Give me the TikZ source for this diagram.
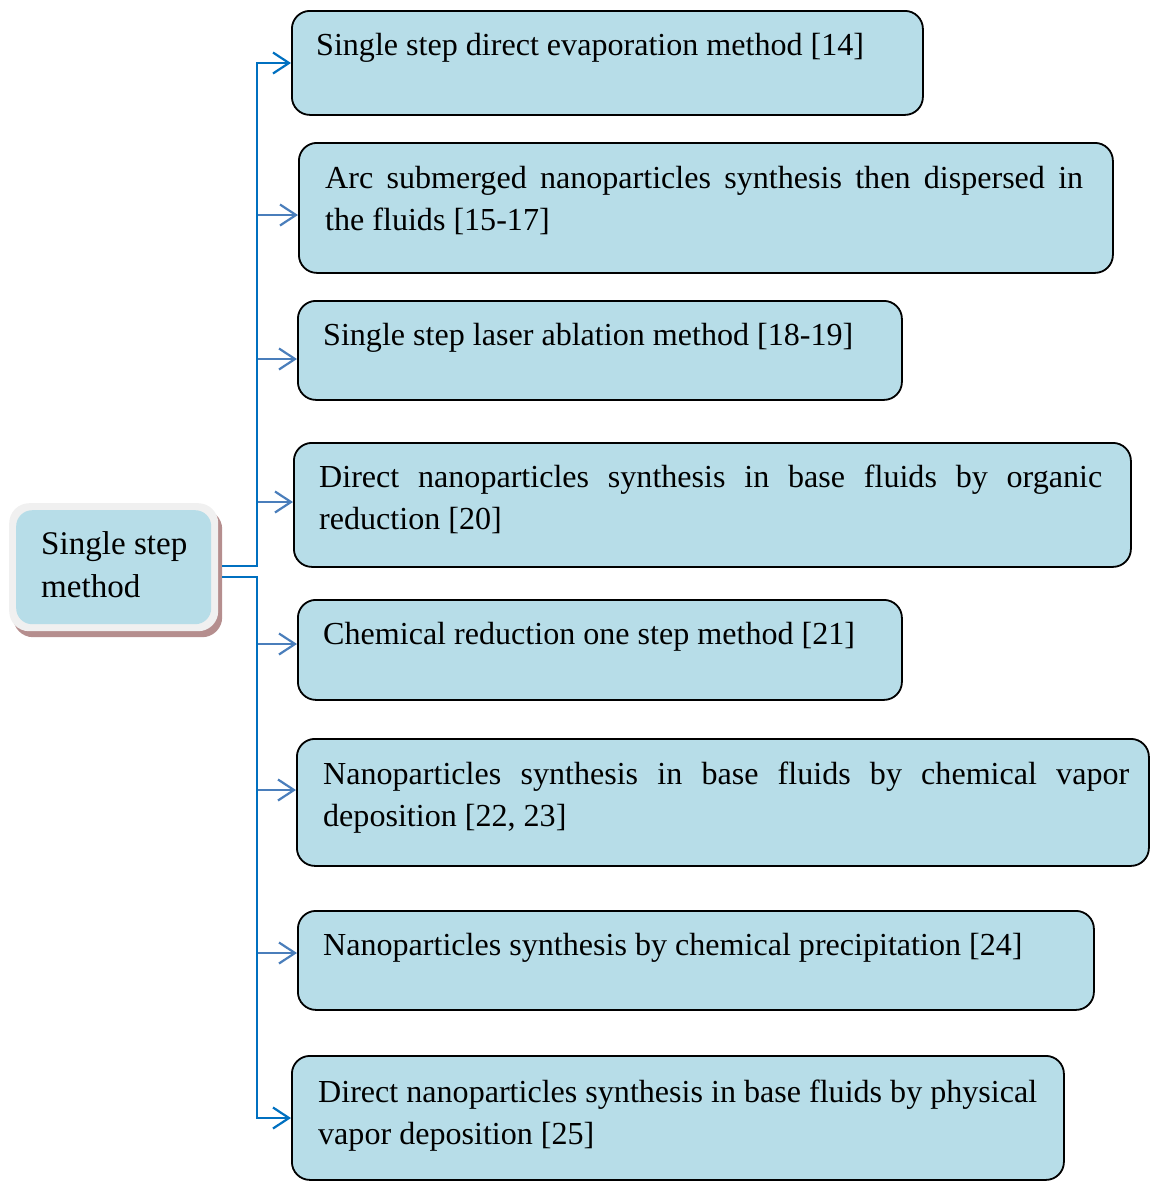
\documentclass[tikz,border=0pt]{standalone}
\usepackage{fontspec}
\setmainfont{Liberation Serif}
\usetikzlibrary{arrows.meta,calc}
\definecolor{boxfill}{HTML}{B7DDE8}
\definecolor{trunkc}{HTML}{0070C0}
\definecolor{branchc}{HTML}{4A7EBB}
\definecolor{framec}{HTML}{F0F0F0}
\definecolor{shadowc}{HTML}{B58E8E}
\begin{document}
\begin{tikzpicture}[x=1bp,y=-1bp,
  stepbox/.style={draw=black, line width=1.8bp, fill=boxfill, rounded corners=18bp,
    inner sep=0pt, anchor=north west},
  txt/.style={anchor=north west, inner sep=0pt, font=\fontsize{32.2}{42.2}\selectfont},
  tip/.style={-{Straight Barb[length=16bp,width=21bp,line width=2.2bp]}},
  trunk/.style={draw=trunkc, line width=2.9bp, tip},
  branch/.style={draw=branchc, line width=2.3bp, tip}]
\useasboundingbox (0,0) rectangle (1152,1181);

% source node
\node[fill=shadowc, rounded corners=20bp, minimum width=209bp, minimum height=128bp,
  inner sep=0pt, anchor=north west] (lsh) at (13,509) {};
\node[fill=framec, rounded corners=20bp, minimum width=209bp, minimum height=128bp,
  inner sep=0pt, anchor=north west] (lfr) at (9,503) {};
\node[fill=boxfill, rounded corners=16bp, minimum width=195bp, minimum height=114bp,
  inner sep=0pt, anchor=north west] (src) at (16,510) {};
\node[txt, align=left, font=\fontsize{33.2}{43}\selectfont] (tsrc) at ($(src.north west)+(25,14)$) {\strut Single step\\method};

% target boxes
\node[stepbox, minimum width=631bp, minimum height=104bp] (b1) at (291,10) {};
\node[stepbox, minimum width=814bp, minimum height=130bp] (b2) at (298,142) {};
\node[stepbox, minimum width=604bp, minimum height=99bp]  (b3) at (297,300) {};
\node[stepbox, minimum width=837bp, minimum height=124bp] (b4) at (293,442) {};
\node[stepbox, minimum width=604bp, minimum height=100bp] (b5) at (297,599) {};
\node[stepbox, minimum width=852bp, minimum height=127bp] (b6) at (296,738) {};
\node[stepbox, minimum width=796bp, minimum height=99bp]  (b7) at (297,910) {};
\node[stepbox, minimum width=772bp, minimum height=124bp] (b8) at (291,1055) {};

% texts
\node[txt] (t1) at ($(b1.north west)+(25,15.6)$) {\strut Single step direct evaporation method [14]};
\node[txt, text width=758bp, align=justify] (t2) at ($(b2.north west)+(27,16.6)$)
  {\strut Arc submerged nanoparticles synthesis then dispersed in\linebreak the fluids [15-17]};
\node[txt] (t3) at ($(b3.north west)+(26,15.6)$) {\strut Single step laser ablation method [18-19]};
\node[txt, text width=783bp, align=justify] (t4) at ($(b4.north west)+(26,15.6)$)
  {\strut Direct nanoparticles synthesis in base fluids by organic\linebreak reduction [20]};
\node[txt] (t5) at ($(b5.north west)+(26,15.6)$) {\strut Chemical reduction one step method [21]};
\node[txt, text width=806bp, align=justify] (t6) at ($(b6.north west)+(27,16.6)$)
  {\strut Nanoparticles synthesis in base fluids by chemical vapor\linebreak deposition [22, 23]};
\node[txt] (t7) at ($(b7.north west)+(26,15.6)$) {\strut Nanoparticles synthesis by chemical precipitation [24]};
\node[txt, align=left] (t8) at ($(b8.north west)+(27,17.6)$)
  {\strut Direct nanoparticles synthesis in base fluids by physical\\vapor deposition [25]};

% connector points
\coordinate (o1) at ($(lfr.north east)+(4,63)$);
\coordinate (o2) at ($(lfr.north east)+(4,74)$);
\coordinate (tr) at (257,0);
\coordinate (e1) at ($(b1.north west)+(0,53)$);
\coordinate (e2) at ($(b2.north west)+(0,73)$);
\coordinate (e3) at ($(b3.north west)+(0,59)$);
\coordinate (e4) at ($(b4.north west)+(0,60)$);
\coordinate (e5) at ($(b5.north west)+(0,45)$);
\coordinate (e6) at ($(b6.north west)+(0,52)$);
\coordinate (e7) at ($(b7.north west)+(0,43)$);
\coordinate (e8) at ($(b8.north west)+(0,63)$);

% connectors
\draw[branch] (tr |- e2) -- (e2);
\draw[branch] (tr |- e3) -- (e3);
\draw[branch] (tr |- e4) -- (e4);
\draw[branch] (tr |- e5) -- (e5);
\draw[branch] (tr |- e6) -- (e6);
\draw[branch] (tr |- e7) -- (e7);
\draw[trunk] (o1) -| (tr |- e1) -- (e1);
\draw[trunk] (o2) -| (tr |- e8) -- (e8);
\end{tikzpicture}
\end{document}
